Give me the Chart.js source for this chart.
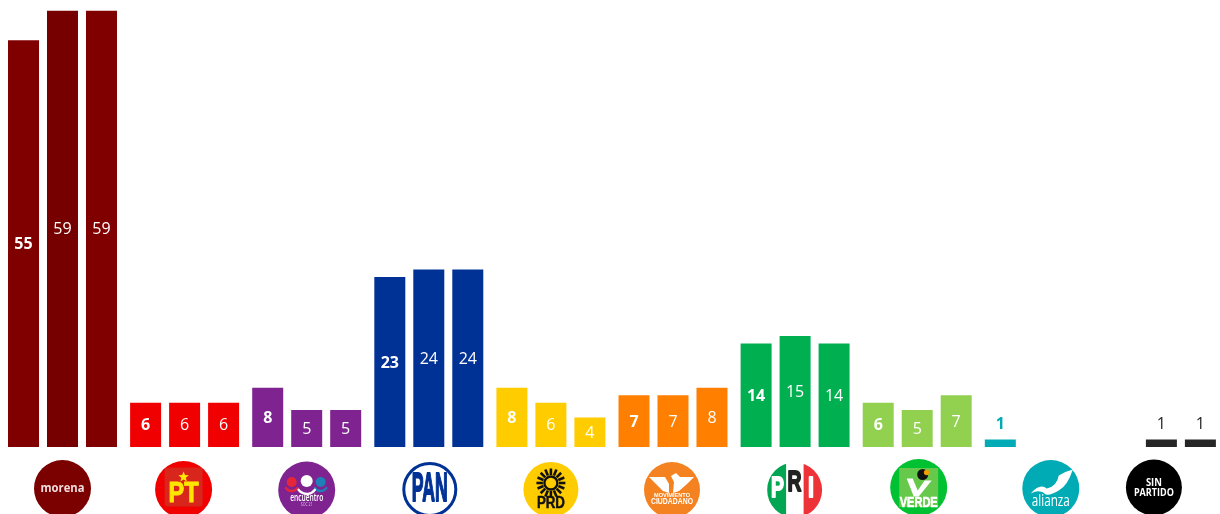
<!DOCTYPE html>
<html>
<head>
<meta charset="utf-8">
<title>Escaños por partido</title>
<script src="https://cdn.jsdelivr.net/npm/chart.js@4/dist/chart.umd.min.js"></script>
<style>
    html, body { margin: 0; padding: 0; background: #fff; overflow: hidden; }
    #chart { display: block; }
</style>
</head>
<body>
<canvas id="chart" width="1224" height="514"></canvas>
<script>
const categories = ['Morena', 'PT', 'Encuentro', 'PAN', 'PRD', 'Movimiento Ciudadano', 'PRI', 'Verde', 'Alianza', 'Sin partido'];
const firstValues = [55, 6, 8, 23, 8, 7, 14, 6, 1, null];
const secondValues = [59, 6, 5, 24, 6, 7, 15, 5, null, 1];
const thirdValues = [59, 6, 5, 24, 4, 8, 14, 7, null, 1];

const barColors = ['#800000', '#f00000', '#7f2390', '#003296', '#ffcc00', '#ff7f00', '#00b050', '#92d050', '#00abb5', '#262626'];
const middleBarColors = ['#760000', '#f00000', '#7f2390', '#003296', '#ffcc00', '#ff7f00', '#00b050', '#92d050', '#00abb5', '#262626'];
const smallLabelColors = { 8: '#00abb5', 9: '#262626' };

const LABEL_FONT = '"Open Sans", sans-serif';
const LOGO_FONT = '"Liberation Sans", sans-serif';

// draws text squeezed or stretched to an exact width, logos need this a lot
function fitText(ctx, txt, x, y, width, font, color, heavy) {
    ctx.save();
    ctx.font = font;
    ctx.fillStyle = color;
    ctx.textAlign = 'center';
    ctx.textBaseline = 'middle';
    const measured = ctx.measureText(txt).width;
    ctx.translate(x, y);
    ctx.scale(width / measured, 1);
    ctx.fillText(txt, 0, 0);
    if (heavy) {
        ctx.strokeStyle = color;
        ctx.lineWidth = heavy;
        ctx.lineJoin = 'round';
        ctx.strokeText(txt, 0, 0);
    }
    ctx.restore();
}

function disc(ctx, r, color, x = 0, y = 0) {
    ctx.fillStyle = color;
    ctx.beginPath();
    ctx.arc(x, y, r, 0, Math.PI * 2);
    ctx.fill();
}

function poly(ctx, color, pts) {
    ctx.fillStyle = color;
    ctx.beginPath();
    pts.forEach((p, i) => i ? ctx.lineTo(p[0], p[1]) : ctx.moveTo(p[0], p[1]));
    ctx.closePath();
    ctx.fill();
}

// one entry per category: offset from the category centre, height and drawing
const logos = [
    { dx: 0, cy: 488.5, r: 28.5, draw(ctx, r) {
        disc(ctx, r, '#7b0000');
        fitText(ctx, 'morena', 0, -0.5, 44, 'bold 13px ' + LABEL_FONT, '#efdcdc');
    } },
    { dx: -1, cy: 489.5, r: 28.5, draw(ctx, r) {
        disc(ctx, r, '#f00000');
        ctx.fillStyle = '#d9261c';
        ctx.beginPath();
        ctx.roundRect(-19, -22, 38, 39, 3);
        ctx.fill();
        const star = [];
        for (let i = 0; i < 10; i++) {
            const a = -Math.PI / 2 + i * Math.PI / 5;
            const rad = i % 2 ? 2.4 : 5.5;
            star.push([rad * Math.cos(a), -12.5 + rad * Math.sin(a)]);
        }
        poly(ctx, '#ffe600', star);
        fitText(ctx, 'PT', 0, 4.5, 30, 'bold 29px ' + LOGO_FONT, '#ffe600', 1);
    } },
    { dx: 0, cy: 490, r: 28.5, draw(ctx, r) {
        disc(ctx, r, '#7f2390');
        disc(ctx, 5, '#e5263a', -15, -8);
        disc(ctx, 5, '#1f7fb8', 14, -8);
        disc(ctx, 6, '#ffffff', 0, -9);
        ctx.lineWidth = 2.5;
        ctx.lineCap = 'round';
        [[-15, '#e5263a', 7], [14, '#1f7fb8', 7], [0, '#ffffff', 10]].forEach(a => {
            ctx.strokeStyle = a[1];
            ctx.beginPath();
            ctx.arc(a[0], -6, a[2], 0.2 * Math.PI, 0.8 * Math.PI);
            ctx.stroke();
        });
        fitText(ctx, 'encuentro', 0, 8, 33, '600 10px ' + LABEL_FONT, '#ffffff');
        fitText(ctx, 'SOC 21', 0, 14.5, 12, '5px ' + LABEL_FONT, '#d9c4de');
    } },
    { dx: 1, cy: 489.5, r: 27.5, draw(ctx, r) {
        disc(ctx, r, '#ffffff');
        ctx.strokeStyle = '#003296';
        ctx.lineWidth = 3;
        ctx.beginPath();
        ctx.arc(0, 0, r - 1.5, 0, Math.PI * 2);
        ctx.stroke();
        fitText(ctx, 'PAN', 0, 0.5, 36, 'bold 41px ' + LOGO_FONT, '#003296', 1.8);
    } },
    { dx: 0, cy: 489.5, r: 27.5, draw(ctx, r) {
        disc(ctx, r, '#ffcc00');
        ctx.strokeStyle = '#111';
        ctx.lineWidth = 2.6;
        for (let i = 0; i < 16; i++) {
            const a = i * Math.PI / 8;
            ctx.beginPath();
            ctx.moveTo(8 * Math.cos(a), -6.5 + 8 * Math.sin(a));
            ctx.lineTo(14.5 * Math.cos(a), -6.5 + 14.5 * Math.sin(a));
            ctx.stroke();
        }
        ctx.lineWidth = 2.4;
        ctx.beginPath();
        ctx.arc(0, -6.5, 6.5, 0, Math.PI * 2);
        ctx.stroke();
        fitText(ctx, 'PRD', 0, 14, 28, 'bold 16px ' + LOGO_FONT, '#111', 0.5);
    } },
    { dx: -1, cy: 490, r: 28, draw(ctx, r) {
        disc(ctx, r, '#f58220');
        poly(ctx, '#ffffff', [[-23, -13], [-7, -13], [-3, -6], [-3, 3], [-9, 1], [-16, -6]]);
        poly(ctx, '#ffffff', [[22, -13], [8, -13], [4, -17], [-1, -14], [2, -8], [1, 3], [7, 1], [15, -6]]);
        fitText(ctx, 'MOVIMIENTO', 0, 5.5, 36, 'bold 6px ' + LOGO_FONT, '#ffffff');
        fitText(ctx, 'CIUDADANO', 0, 11.5, 42, 'bold 8.5px ' + LOGO_FONT, '#ffffff');
    } },
    { dx: -0.5, cy: 490, r: 27.5, draw(ctx, r) {
        ctx.save();
        ctx.beginPath();
        ctx.arc(0, 0, r, 0, Math.PI * 2);
        ctx.clip();
        ctx.fillStyle = '#ffffff';
        ctx.fillRect(-r, -r, r * 2, r * 2);
        ctx.fillStyle = '#00a651';
        ctx.fillRect(-r, -r, r - 8.5, r * 2);
        ctx.fillStyle = '#ee3338';
        ctx.fillRect(9, -r, r, r * 2);
        ctx.restore();
        fitText(ctx, 'P', -17, -1, 13, 'bold 30px ' + LOGO_FONT, '#ffffff', 1.8);
        fitText(ctx, 'R', 0, -7.5, 14, 'bold 30px ' + LOGO_FONT, '#222222', 1.8);
        fitText(ctx, 'I', 16.5, -1, 6, 'bold 30px ' + LOGO_FONT, '#ffffff', 1.8);
    } },
    { dx: 1.5, cy: 487.5, r: 28.5, draw(ctx, r) {
        disc(ctx, r, '#00c132');
        ctx.fillStyle = '#66c94c';
        ctx.fillRect(-19.5, -19.5, 39, 39);
        poly(ctx, '#ffffff', [[-12, -9], [-6, -9], [-1, 3], [6, -7], [13, -7], [0, 9], [-5, 9]]);
        disc(ctx, 5.5, '#111111', 4, -13);
        disc(ctx, 2.8, '#f0a000', 8, -15);
        fitText(ctx, 'VERDE', 0, 15.5, 38, 'bold 15px ' + LOGO_FONT, '#ffffff', 0.6);
    } },
    { dx: 11.5, cy: 488.5, r: 28.5, draw(ctx, r) {
        disc(ctx, r, '#00abb5');
        ctx.fillStyle = '#ffffff';
        ctx.beginPath();
        ctx.moveTo(-20, 5);
        ctx.quadraticCurveTo(-11, -6, -4, 0);
        ctx.quadraticCurveTo(6, -2, 8, -13);
        ctx.quadraticCurveTo(14, -17, 22, -19);
        ctx.quadraticCurveTo(17, -3, 8, 2);
        ctx.quadraticCurveTo(0, 7, -5, 6);
        ctx.quadraticCurveTo(-11, 0, -20, 5);
        ctx.fill();
        fitText(ctx, 'alianza', 0, 13, 38, '500 16px ' + LABEL_FONT, '#ffffff');
    } },
    { dx: -7.5, cy: 487.5, r: 28, draw(ctx, r) {
        disc(ctx, r, '#000000');
        fitText(ctx, 'SIN', 0, -4.5, 16, 'bold 10.5px ' + LABEL_FONT, '#ffffff');
        fitText(ctx, 'PARTIDO', 0, 5.5, 40, 'bold 10.5px ' + LABEL_FONT, '#ffffff');
    } }
];

// Values go in the middle of the bar, or just above it when the bar is too short
const barLabels = {
    id: 'barLabels',
    afterDatasetsDraw(chart) {
        const ctx = chart.ctx;
        ctx.save();
        ctx.textAlign = 'center';
        ctx.textBaseline = 'middle';
        chart.data.datasets.forEach((ds, d) => {
            chart.getDatasetMeta(d).data.forEach((bar, i) => {
                const v = ds.data[i];
                if (v === null) return;
                ctx.font = (d === 0 ? 'bold ' : '') + '16px ' + LABEL_FONT;
                if (v < 2) {
                    ctx.fillStyle = smallLabelColors[i];
                    ctx.fillText(v, bar.x, bar.y - 15);
                } else {
                    ctx.fillStyle = '#ffffff';
                    ctx.fillText(v, bar.x, (bar.y + bar.base) / 2 + 1);
                }
            });
        });
        ctx.restore();
    }
};

const partyLogos = {
    id: 'partyLogos',
    afterDraw(chart) {
        const ctx = chart.ctx;
        const xScale = chart.scales.x;
        logos.forEach((logo, i) => {
            ctx.save();
            ctx.translate(xScale.getPixelForValue(i) + logo.dx, logo.cy);
            logo.draw(ctx, logo.r);
            ctx.restore();
        });
    }
};

new Chart(document.getElementById('chart').getContext('2d'), {
    type: 'bar',
    data: {
        labels: categories,
        datasets: [
            { label: 'Primera', data: firstValues, backgroundColor: barColors, inflateAmount: 0 },
            { label: 'Segunda', data: secondValues, backgroundColor: middleBarColors, inflateAmount: 0 },
            { label: 'Tercera', data: thirdValues, backgroundColor: barColors, inflateAmount: 0 }
        ]
    },
    options: {
        responsive: false,
        animation: false,
        categoryPercentage: 0.958,
        barPercentage: 0.795,
        layout: { padding: { left: 1.45, right: 1.55, top: 3.4, bottom: 67 } },
        plugins: { legend: { display: false }, tooltip: { enabled: false } },
        scales: {
            x: { display: false },
            y: { display: false, min: 0, max: 60 }
        }
    },
    plugins: [barLabels, partyLogos]
});
</script>
</body>
</html>
